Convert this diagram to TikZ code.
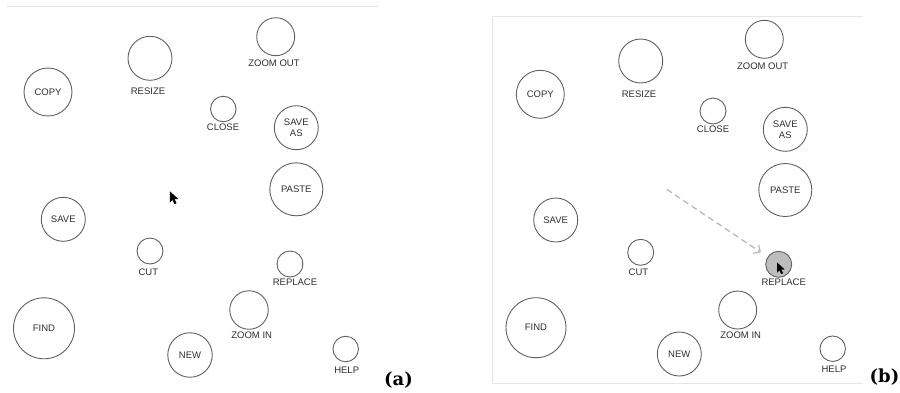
\documentclass[tikz,border=0pt]{standalone}
\usepackage{fontspec}
\newfontfamily\uifont{Liberation Sans}
\newfontfamily\panelfont{DejaVu Serif}
\usetikzlibrary{arrows.meta}
\definecolor{ring}{HTML}{606060}
\definecolor{txt}{HTML}{2E2E2E}
\definecolor{frame}{HTML}{E6E6E6}
\definecolor{dashc}{HTML}{B8B8B8}
\definecolor{selfill}{HTML}{BDBDBD}
\tikzset{
  btn/.style={circle, draw=ring, line width=0.9pt, inner sep=0pt, minimum size=#1,
              font=\uifont\fontsize{9.5}{11}\selectfont, text=txt, align=center},
  lbl/.style={inner sep=0pt, font=\uifont\fontsize{9.5}{11}\selectfont, text=txt},
  panel/.style={inner sep=0pt, font=\panelfont\bfseries\fontsize{18}{20}\selectfont, text=black},
  framel/.style={draw=frame, line width=0.8pt},
  ptr/.style={fill=black, draw=black, line width=0.3pt, line join=round},
  drag/.style={draw=dashc, line width=1.3pt, dash pattern=on 6pt off 4pt,
               -{Straight Barb[length=5pt,width=10pt,line width=1.2pt]}}
}
\begin{document}
\begin{tikzpicture}[x=1pt,y=-1pt]
\useasboundingbox (0,0) rectangle (900,392);
% frames
\coordinate (fa1) at (7,6);
\coordinate (fa2) at (379,6);
\draw[framel] (fa1) -- (fa2);
\coordinate (fb1) at (492.5,383.5);
\coordinate (fb2) at (492.5,16);
\coordinate (fb3) at (863,16);
\coordinate (fb4) at (863,383.5);
\draw[framel] (fb4) -- (fb1) -- (fb2) -- (fb3);

% ---------- panel (a) ----------
\node[btn=38pt] (zoomoutA) at (275.7,36.7) {};
\node[lbl] (zoomoutAl) at (274,63.3) {ZOOM OUT};
\node[btn=44pt] (resizeA) at (150,58.3) {};
\node[lbl] (resizeAl) at (148,91.7) {RESIZE};
\node[btn=48pt] (copyA) at (48,92) {COPY};
\node[btn=25.5pt] (closeA) at (223.3,109) {};
\node[lbl] (closeAl) at (223,127.7) {CLOSE};
\node[btn=44pt] (saveasA) at (296.3,127.7) {SAVE\\AS};
\node[btn=53pt] (pasteA) at (296.3,189.3) {PASTE};
\node[btn=44pt] (saveA) at (63.3,219.3) {SAVE};
\node[btn=26pt] (cutA) at (150,251) {};
\node[lbl] (cutAl) at (148.4,272.7) {CUT};
\node[btn=26pt] (replaceA) at (290,264) {};
\node[lbl] (replaceAl) at (295,282.3) {REPLACE};
\node[btn=38.5pt] (zoominA) at (249,310) {};
\node[lbl] (zoominAl) at (251.7,335.7) {ZOOM IN};
\node[btn=61pt] (findA) at (44,328.3) {FIND};
\node[btn=44.5pt] (newA) at (190,355) {NEW};
\node[btn=25.5pt] (helpA) at (345.7,349) {};
\node[lbl] (helpAl) at (346.7,370) {HELP};
\node[panel] (labA) at (398.5,380.5) {(a)};
% cursor (a)
\draw[ptr] (170,191.7) -- ++(0,10.5) -- ++(2.6,-2.6) -- ++(2,4.2) -- ++(1.7,-0.8) -- ++(-2,-4.1) -- ++(3.6,0) -- cycle;

% ---------- panel (b) ----------
\node[btn=38pt] (zoomoutB) at (764.3,39.3) {};
\node[lbl] (zoomoutBl) at (762.7,66) {ZOOM OUT};
\node[btn=44pt] (resizeB) at (640.7,61) {};
\node[lbl] (resizeBl) at (639,94.3) {RESIZE};
\node[btn=48pt] (copyB) at (540.3,94.3) {COPY};
\node[btn=26pt] (closeB) at (713,111) {};
\node[lbl] (closeBl) at (713,129.3) {CLOSE};
\node[btn=44pt] (saveasB) at (785.3,129.3) {SAVE\\AS};
\node[btn=53pt] (pasteB) at (785.3,190) {PASTE};
\node[btn=44pt] (saveB) at (555.7,220) {SAVE};
\node[btn=26pt] (cutB) at (640.7,252.3) {};
\node[lbl] (cutBl) at (638.5,272.7) {CUT};
\node[btn=26pt, fill=selfill] (replaceB) at (778.7,264.3) {};
\node[lbl] (replaceBl) at (783.7,282.3) {REPLACE};
\node[btn=38pt] (zoominB) at (737.7,310) {};
\node[lbl] (zoominBl) at (740.7,335.3) {ZOOM IN};
\node[btn=60pt] (findB) at (536,327.7) {FIND};
\node[btn=44pt] (newB) at (679.3,354) {NEW};
\node[btn=25.5pt] (helpB) at (832.7,348.7) {};
\node[lbl] (helpBl) at (834,369) {HELP};
\node[panel] (labB) at (884.5,377) {(b)};
% drag arrow
\coordinate (dragstart) at (666.7,189.3);
\draw[drag, shorten >=8pt] (dragstart) -- (replaceB);
% cursor (b)
\draw[ptr] (777.2,262.8) -- ++(0,9.5) -- ++(2.3,-2.3) -- ++(1.8,3.8) -- ++(1.5,-0.7) -- ++(-1.8,-3.7) -- ++(3.3,0) -- cycle;
\end{tikzpicture}
\end{document}
